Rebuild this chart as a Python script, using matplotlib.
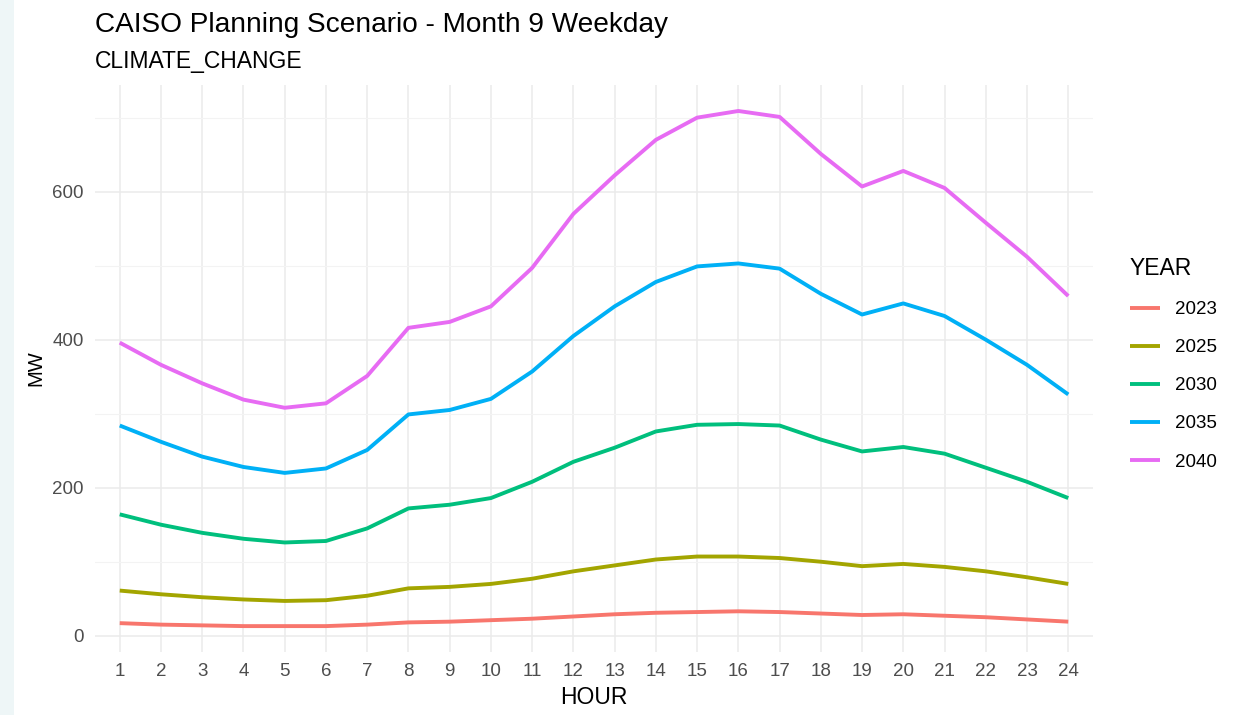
import matplotlib.pyplot as plt
from matplotlib.patches import Rectangle

# -----------------------
# Data
# -----------------------
hours = list(range(1, 25))
years = ["2023", "2025", "2030", "2035", "2040"]

mw_2023 = [17, 15, 14, 13, 13, 13, 15, 18, 19, 21, 23, 26,
           29, 31, 32, 33, 32, 30, 28, 29, 27, 25, 22, 19]
mw_2025 = [61, 56, 52, 49, 47, 48, 54, 64, 66, 70, 77, 87,
           95, 103, 107, 107, 105, 100, 94, 97, 93, 87, 79, 70]
mw_2030 = [164, 150, 139, 131, 126, 128, 145, 172, 177, 186, 208, 235,
           254, 276, 285, 286, 284, 265, 249, 255, 246, 227, 208, 186]
mw_2035 = [284, 262, 242, 228, 220, 226, 251, 299, 305, 320, 357, 405,
           445, 478, 499, 503, 496, 462, 434, 449, 432, 400, 366, 326]
mw_2040 = [396, 366, 341, 319, 308, 314, 351, 416, 424, 445, 497, 570,
           622, 670, 700, 709, 701, 651, 607, 628, 605, 558, 512, 459]

series = [mw_2023, mw_2025, mw_2030, mw_2035, mw_2040]
colors = ["#F8766D", "#A3A500", "#00BF7D", "#00B0F6", "#E76BF3"]

# -----------------------
# Figure
# -----------------------
plt.rcParams["font.family"] = ["Liberation Sans", "DejaVu Sans"]

fig = plt.figure(figsize=(12.37, 7.15), dpi=100)
ax = fig.add_axes([0.0768, 0.0881, 0.8068, 0.7929])

# light strip at the left edge of the screenshot
fig.patches.append(Rectangle((0, 0), 14 / 1237, 1, transform=fig.transFigure,
                             facecolor="#eef6f7", edgecolor="none", zorder=-1))

for vals, year, col in zip(series, years, colors):
    ax.plot(hours, vals, color=col, linewidth=2.8, label=year,
            solid_capstyle="butt")

ax.set_xlim(0.4, 24.6)
ax.set_ylim(-22, 744)
ax.set_xticks(hours)
ax.set_yticks([0, 200, 400, 600])
ax.set_yticks([100, 300, 500, 700], minor=True)

ax.grid(which="major", color="#ebebeb", linewidth=1.1)
ax.grid(which="minor", axis="y", color="#f3f3f3", linewidth=0.8)
ax.set_axisbelow(True)
for s in ax.spines.values():
    s.set_visible(False)
ax.tick_params(which="both", length=0, labelsize=13.5, labelcolor="#4d4d4d", pad=8)

ax.set_xlabel("HOUR", fontsize=16.5, labelpad=4)
ax.set_ylabel("MW", fontsize=14.5, labelpad=5)

fig.text(95 / 1237, 1 - 32 / 715, "CAISO Planning Scenario - Month 9 Weekday",
         fontsize=20.2, ha="left", va="baseline")
fig.text(95 / 1237, 1 - 68 / 715, "CLIMATE_CHANGE",
         fontsize=16.5, ha="left", va="baseline")

leg = ax.legend(title="YEAR", loc="upper left", bbox_to_anchor=(1130 / 1237, 1 - 257 / 715),
                bbox_transform=fig.transFigure, frameon=False, fontsize=13.5,
                title_fontsize=16.5, handlelength=1.6, handletextpad=0.8,
                labelspacing=1.12, borderpad=0, borderaxespad=0)
leg._legend_box.align = "left"

fig.savefig("out.png", dpi=100)
